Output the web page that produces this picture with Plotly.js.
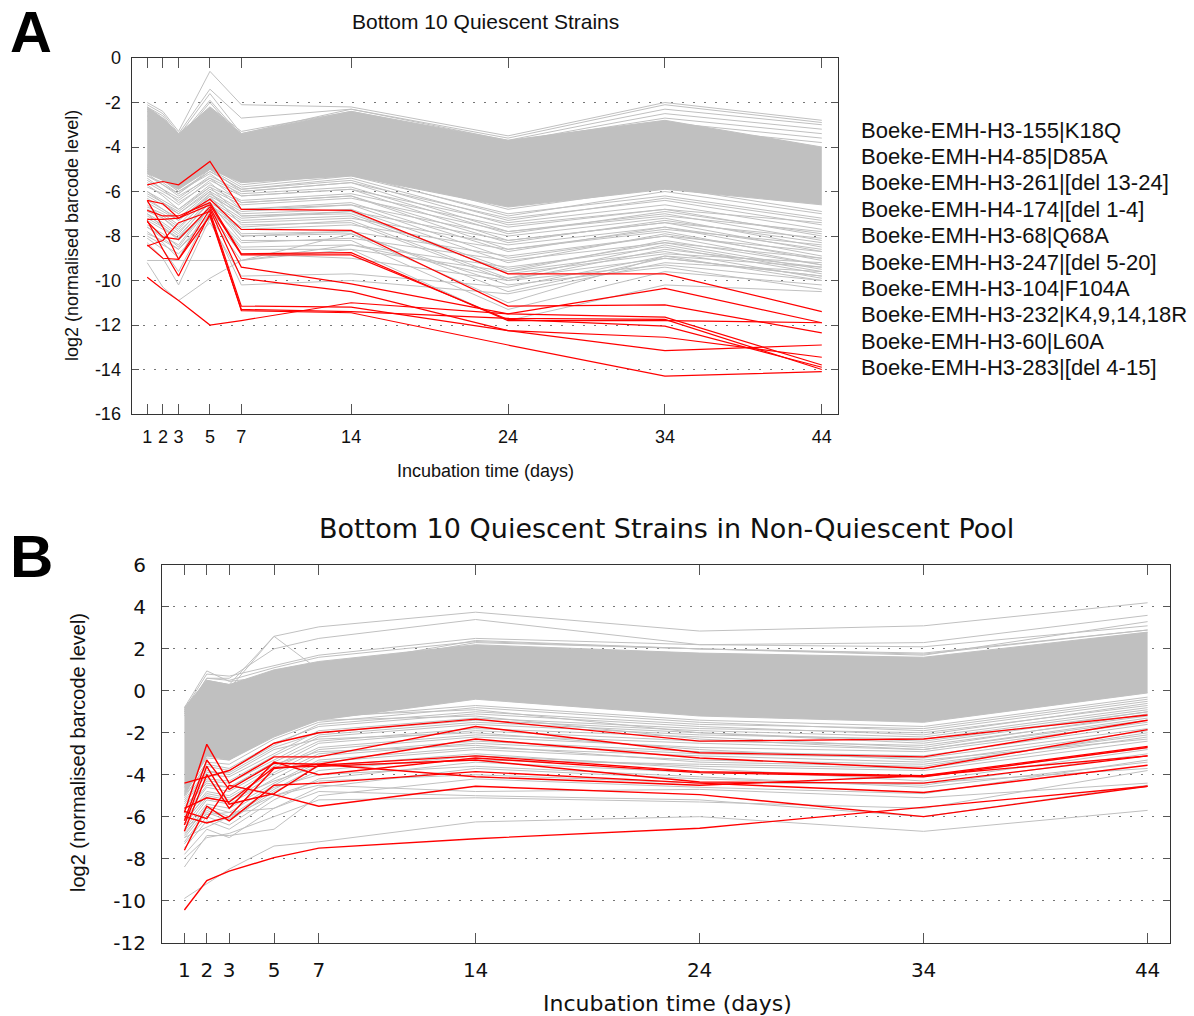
<!DOCTYPE html>
<html><head><meta charset="utf-8">
<script src="https://cdn.plot.ly/plotly-3.0.1.min.js"></script>
<style>html,body{margin:0;padding:0;background:#fff;}#chart{width:1194px;height:1016px;}</style>
</head><body><div id="chart"></div>
<script>
// ---------------- DATA ----------------
const days = [1, 2, 3, 5, 7, 14, 24, 34, 44];
const dayLabels = ['1', '2', '3', '5', '7', '14', '24', '34', '44'];
const aYTicks = [0, -2, -4, -6, -8, -10, -12, -14, -16];
const aYTickLabels = ['0', '-2', '-4', '-6', '-8', '-10', '-12', '-14', '-16'];
const bYTicks = [6, 4, 2, 0, -2, -4, -6, -8, -10, -12];
const bYTickLabels = ['6', '4', '2', '0', '-2', '-4', '-6', '-8', '-10', '-12'];

const strainLabels = [
  'Boeke-EMH-H3-155|K18Q',
  'Boeke-EMH-H4-85|D85A',
  'Boeke-EMH-H3-261|[del 13-24]',
  'Boeke-EMH-H4-174|[del 1-4]',
  'Boeke-EMH-H3-68|Q68A',
  'Boeke-EMH-H3-247|[del 5-20]',
  'Boeke-EMH-H3-104|F104A',
  'Boeke-EMH-H3-232|K4,9,14,18R',
  'Boeke-EMH-H3-60|L60A',
  'Boeke-EMH-H3-283|[del 4-15]'
];

// Panel A: dense grey core of all strains (upper / lower edge)
const aCoreTop = [-2.2, -2.7, -3.4, -2.2, -3.4, -2.4, -3.7, -2.8, -4.0];
const aCoreBottom = [-5.2, -5.5, -5.9, -5.0, -5.6, -5.3, -6.7, -5.9, -6.6];

// Panel A: other (grey) strains
const aGrey = [
  [-2.0, -2.4, -3.3, -0.6, -2.1, -2.2, -3.5, -2.0, -2.8],
  [-2.1, -2.5, -3.4, -1.4, -2.7, -2.3, -3.6, -2.1, -2.9],
  [-2.2, -2.6, -3.5, -1.6, -3.4, -2.3, -3.7, -2.3, -3.0],
  [-2.3, -2.8, -3.6, -1.9, -3.5, -2.5, -3.8, -2.5, -3.2],
  [-2.4, -2.9, -3.5, -2.2, -3.3, -2.4, -3.8, -2.7, -3.4],
  [-2.6, -3.0, -3.7, -2.0, -3.6, -2.6, -4.0, -2.9, -3.6],
  [-2.8, -3.2, -3.8, -2.4, -3.7, -2.8, -4.2, -3.1, -3.8],
  [-5.0, -5.4, -5.8, -4.8, -5.6, -5.0, -6.8, -5.8, -6.9],
  [-5.1, -5.5, -5.9, -4.9, -5.7, -5.2, -7.1, -6.0, -7.0],
  [-5.3, -5.6, -6.1, -5.0, -5.8, -5.3, -7.0, -6.2, -7.2],
  [-5.3, -5.7, -6.1, -5.1, -5.9, -5.4, -7.3, -6.3, -7.3],
  [-5.5, -5.9, -6.3, -5.3, -6.0, -5.6, -7.2, -6.4, -7.5],
  [-5.6, -6.0, -6.4, -5.4, -6.1, -5.8, -7.9, -6.9, -7.9],
  [-5.8, -6.1, -6.6, -5.5, -6.2, -5.9, -7.4, -6.6, -7.7],
  [-6.0, -6.4, -6.8, -5.7, -6.4, -6.1, -7.6, -6.8, -8.0],
  [-6.1, -6.5, -6.9, -5.8, -6.5, -6.2, -8.3, -7.3, -8.3],
  [-6.2, -6.6, -7.0, -5.9, -6.6, -6.3, -7.8, -7.0, -8.2],
  [-6.4, -6.8, -7.2, -6.0, -6.8, -6.5, -8.7, -7.6, -8.6],
  [-6.5, -6.9, -7.3, -6.1, -6.9, -6.6, -8.0, -7.2, -8.5],
  [-6.7, -7.0, -7.5, -6.1, -7.1, -6.9, -9.7, -8.8, -9.2],
  [-6.8, -7.1, -7.6, -6.3, -7.2, -6.9, -8.2, -7.4, -8.7],
  [-6.9, -7.2, -7.7, -6.2, -7.0, -6.8, -9.2, -7.9, -9.0],
  [-7.0, -7.4, -7.9, -6.3, -8.0, -7.9, -10.2, -9.4, -10.4],
  [-7.1, -7.5, -8.0, -6.5, -7.4, -7.2, -8.4, -7.6, -8.9],
  [-7.2, -7.6, -8.1, -6.4, -7.3, -7.1, -9.6, -8.2, -9.3],
  [-7.5, -7.9, -8.5, -6.7, -7.7, -7.5, -8.6, -7.8, -9.1],
  [-7.6, -8.0, -8.4, -6.6, -7.6, -7.3, -9.9, -8.4, -9.6],
  [-7.8, -8.3, -9.0, -6.6, -8.0, -7.8, -8.9, -8.0, -9.3],
  [-8.1, -8.6, -9.6, -6.9, -8.3, -8.1, -9.1, -8.3, -9.5],
  [-8.3, -9.0, -10.2, -7.2, -9.1, -8.4, -9.4, -8.5, -9.7],
  [-9.1, -9.1, -9.1, -9.1, -9.1, -8.6, -9.6, -8.7, -9.9],
  [-8.0, -8.4, -8.8, -7.4, -9.8, -9.7, -10.3, -8.9, -10.0],
  [-7.6, -8.1, -8.6, -7.2, -10.2, -10.0, -10.6, -9.2, -9.6],
  [-9.2, -10.3, -10.9, -9.9, -9.1, -7.9, -11.0, -8.9, -9.4],
  [-7.0, -7.6, -8.2, -6.8, -8.6, -8.6, -11.8, -10.2, -10.5],
  [-6.6, -7.2, -7.8, -6.5, -8.2, -8.2, -11.3, -9.6, -10.2],
  [-6.3, -6.8, -7.3, -6.2, -7.9, -7.8, -10.5, -9.0, -9.8],
  [-6.0, -6.5, -7.0, -6.0, -7.5, -7.4, -10.0, -8.6, -9.4],
  [-5.7, -6.2, -6.8, -5.8, -7.1, -7.0, -9.5, -8.3, -9.0],
  [-5.4, -5.9, -6.5, -5.6, -6.8, -6.6, -9.0, -8.0, -8.7],
  [-5.2, -5.7, -6.2, -5.4, -6.5, -6.2, -8.6, -7.7, -8.4],
  [-5.0, -5.5, -6.0, -5.2, -6.2, -5.9, -8.2, -7.4, -8.1],
  [-4.8, -5.3, -5.8, -5.0, -6.0, -5.6, -7.8, -7.1, -7.8],
  [-4.9, -5.4, -6.0, -5.1, -5.9, -5.5, -7.5, -6.8, -7.4],
  [-7.9, -8.2, -8.6, -7.0, -8.8, -9.0, -10.0, -9.3, -10.0],
  [-7.3, -7.7, -8.1, -6.8, -8.5, -8.4, -9.9, -9.0, -9.8]
];

// Panel A: bottom 10 quiescent strains (red)
const aRed = [
  [-5.7, -5.55, -5.7, -4.65, -6.8, -6.85, -9.7, -9.7, -11.4],
  [-6.4, -6.55, -7.2, -6.35, -7.7, -7.75, -11.15, -11.1, -12.35],
  [-6.85, -7.1, -7.1, -6.5, -8.8, -8.75, -11.8, -11.8, -11.9],
  [-7.25, -7.25, -7.2, -6.6, -8.85, -8.85, -11.75, -12.05, -13.9],
  [-7.35, -8.05, -8.15, -6.7, -9.4, -10.15, -11.5, -11.65, -13.8],
  [-6.4, -7.6, -9.05, -6.8, -9.9, -10.5, -12.25, -12.55, -13.45],
  [-8.45, -8.2, -7.4, -6.9, -11.15, -11.2, -12.25, -13.15, -12.9],
  [-7.3, -8.6, -9.8, -7.0, -11.35, -11.45, -12.9, -14.3, -14.1],
  [-9.85, -10.4, -10.9, -12.0, -11.8, -11.0, -11.5, -10.35, -11.9],
  [-8.4, -9.0, -9.05, -7.1, -11.3, -11.4, -11.7, -11.75, -14.0]
];

// Panel B: dense grey core
const bCoreTop = [-0.8, 0.5, 0.3, 1.0, 1.4, 2.2, 1.8, 1.6, 2.8];
const bCoreBottom = [-5.0, -3.1, -3.3, -2.2, -1.4, -0.4, -1.2, -1.5, -0.1];

// Panel B: other (grey) strains
const bGrey = [
  [-0.8, 0.95, 0.45, 0.7, 1.1, 2.4, 2.0, 1.8, 2.9],
  [-1.0, 0.5, 0.3, 2.6, 3.05, 3.75, 2.85, 3.1, 4.2],
  [-1.1, 0.6, 0.6, 2.0, 2.5, 3.4, 2.2, 2.3, 3.6],
  [-1.2, 0.2, 0.1, 2.6, 1.0, 2.3, 2.0, 1.7, 3.3],
  [-0.9, 0.8, 0.7, 1.2, 1.7, 2.5, 2.2, 2.1, 3.1],
  [-1.0, 0.6, 0.5, 1.1, 1.6, 2.35, 2.0, 1.75, 2.9],
  [-4.6, -3.1, -3.2, -2.0, -1.3, -0.7, -1.4, -1.7, -0.3],
  [-4.9, -3.4, -3.5, -2.3, -1.5, -0.8, -1.5, -1.9, -0.5],
  [-5.0, -3.6, -3.8, -2.6, -1.6, -1.0, -1.6, -1.8, -0.4],
  [-5.1, -3.5, -3.7, -2.5, -1.7, -1.1, -1.7, -2.1, -0.6],
  [-5.3, -3.9, -3.9, -2.7, -2.0, -1.4, -1.9, -2.2, -0.8],
  [-5.4, -4.0, -4.1, -3.0, -1.9, -1.3, -1.8, -2.0, -0.7],
  [-5.6, -4.2, -4.3, -3.1, -2.1, -1.5, -2.0, -2.4, -1.0],
  [-5.7, -4.3, -4.4, -3.3, -2.2, -1.6, -2.1, -2.3, -0.9],
  [-5.9, -4.5, -4.6, -3.4, -2.4, -1.8, -2.2, -2.7, -1.1],
  [-6.0, -4.6, -4.8, -3.6, -2.5, -1.9, -2.4, -2.6, -1.2],
  [-6.1, -4.8, -5.0, -3.7, -2.7, -2.1, -2.5, -2.8, -1.4],
  [-6.3, -4.9, -5.1, -3.9, -2.8, -2.2, -2.7, -2.9, -1.5],
  [-6.4, -5.1, -5.3, -4.0, -3.0, -2.4, -2.9, -3.1, -1.6],
  [-6.6, -5.2, -5.4, -4.2, -3.1, -2.5, -3.0, -3.2, -1.8],
  [-6.7, -5.4, -5.6, -4.4, -3.3, -2.7, -3.1, -3.4, -1.9],
  [-6.9, -5.5, -5.8, -4.5, -3.4, -2.8, -3.3, -3.5, -2.1],
  [-7.0, -5.7, -6.1, -4.7, -3.6, -3.3, -3.5, -3.7, -2.2],
  [-7.2, -5.8, -6.2, -4.8, -3.8, -3.1, -3.6, -3.8, -2.4],
  [-7.5, -6.2, -6.6, -5.2, -4.2, -3.4, -3.9, -4.1, -2.7],
  [-7.8, -6.6, -7.0, -5.6, -4.6, -3.7, -4.2, -4.5, -3.0],
  [-8.4, -6.9, -6.9, -6.6, -5.0, -4.2, -4.6, -4.9, -3.3],
  [-8.0, -7.0, -6.8, -6.0, -5.2, -5.1, -5.3, -5.6, -3.8],
  [-9.9, -9.2, -8.5, -7.4, -7.2, -6.25, -6.0, -6.7, -5.7],
  [-6.5, -5.9, -5.8, -5.6, -4.8, -5.0, -5.2, -6.0, -4.5],
  [-7.0, -6.5, -6.0, -5.0, -4.5, -4.8, -4.7, -5.1, -4.4],
  [-4.5, -3.0, -3.0, -1.8, -1.2, -0.9, -2.0, -2.5, -1.0],
  [-4.8, -3.2, -3.3, -2.0, -1.4, -1.2, -2.3, -2.8, -1.3],
  [-5.2, -3.8, -4.0, -2.8, -2.3, -2.0, -2.8, -3.3, -2.3],
  [-5.5, -4.4, -4.6, -3.5, -2.9, -2.6, -3.4, -3.6, -2.0],
  [-6.2, -5.0, -5.2, -4.3, -3.6, -3.0, -3.7, -4.3, -2.8],
  [-6.8, -5.6, -6.0, -4.6, -4.0, -3.6, -4.1, -4.6, -3.4],
  [-7.3, -6.0, -6.4, -5.0, -4.3, -4.0, -4.4, -4.4, -3.7]
];

// Panel B: the same bottom 10 strains in the non-quiescent pool (red)
const bRed = [
  [-4.4, -4.1, -3.8, -2.5, -2.0, -1.35, -2.4, -2.3, -1.15],
  [-5.8, -2.55, -4.4, -3.15, -3.15, -1.7, -2.95, -3.15, -1.4],
  [-6.2, -3.3, -4.7, -3.45, -3.5, -2.3, -3.2, -3.7, -1.85],
  [-6.4, -3.6, -5.4, -4.9, -3.55, -3.1, -3.85, -4.05, -2.65],
  [-6.7, -4.0, -5.6, -3.4, -4.0, -3.2, -3.9, -4.1, -2.7],
  [-5.6, -5.1, -5.3, -3.65, -3.6, -3.3, -4.35, -4.4, -3.1],
  [-7.6, -5.5, -6.2, -4.5, -4.4, -3.85, -4.4, -4.85, -3.55],
  [-5.75, -6.1, -4.5, -4.95, -5.5, -4.55, -4.95, -6.0, -4.55],
  [-10.45, -9.05, -8.6, -7.95, -7.5, -7.05, -6.55, -5.55, -4.55],
  [-6.0, -6.3, -6.0, -3.7, -3.5, -4.1, -4.5, -4.05, -3.1]
];

// ---------------- DRAWING ----------------
const W = 1194, H = 1016;
const px = x => x / W;
const py = y => 1 - y / H;
const GREY = '#c0c0c0', RED = '#ff0000';
const fA = 'Liberation Sans, Arial, sans-serif';
const fB = 'DejaVu Sans, sans-serif';

function line(xa, ya, y, color, width) {
  return {type: 'scatter', mode: 'lines', x: days, y: y, xaxis: xa, yaxis: ya,
    line: {color: color, width: width}, hoverinfo: 'skip', showlegend: false};
}
function band(xa, ya, bottom, top) {
  return [
    {type: 'scatter', mode: 'lines', x: days, y: bottom, xaxis: xa, yaxis: ya,
      line: {color: GREY, width: 1}, hoverinfo: 'skip', showlegend: false},
    {type: 'scatter', mode: 'lines', x: days, y: top, xaxis: xa, yaxis: ya, fill: 'tonexty',
      fillcolor: GREY, line: {color: GREY, width: 1}, hoverinfo: 'skip', showlegend: false}
  ];
}

const traces = [];
traces.push(...band('x', 'y', aCoreBottom, aCoreTop));
aGrey.forEach(s => traces.push(line('x', 'y', s, GREY, 1)));
aRed.forEach(s => traces.push(line('x', 'y', s, RED, 1.2)));
traces.push(...band('x2', 'y2', bCoreBottom, bCoreTop));
bGrey.forEach(s => traces.push(line('x2', 'y2', s, GREY, 1)));
bRed.forEach(s => traces.push(line('x2', 'y2', s, RED, 1.4)));

function xAxis(domain, anchor, font, size, standoff) {
  return {domain: domain, anchor: anchor, range: [0, 45], tickmode: 'array', tickvals: days, ticktext: dayLabels,
    ticks: 'inside', ticklen: 10, tickwidth: 1, tickcolor: '#555', mirror: 'ticks', showline: true,
    linecolor: '#333', linewidth: 1, showgrid: false, zeroline: false, fixedrange: true,
    tickfont: {family: font, size: size, color: '#111'}, ticklabelstandoff: standoff};
}
function yAxis(domain, anchor, range, vals, labels, font, size, standoff) {
  return {domain: domain, anchor: anchor, range: range, tickmode: 'array', tickvals: vals, ticktext: labels,
    ticks: 'inside', ticklen: 7, tickwidth: 1, tickcolor: '#555', mirror: 'ticks', showline: true,
    linecolor: '#333', linewidth: 1, showgrid: true, gridcolor: '#777', gridwidth: 1, griddash: '2px,9px',
    zeroline: false, fixedrange: true,
    tickfont: {family: font, size: size, color: '#111'}, ticklabelstandoff: standoff};
}

const annotations = [
  {text: '<b>A</b>', x: px(31), y: py(32), font: {family: fA, size: 58, color: '#000'}},
  {text: '<b>B</b>', x: px(31), y: py(556), font: {family: fA, size: 60, color: '#000'}},
  {text: 'Bottom 10 Quiescent Strains', x: px(485), y: py(22), font: {family: fA, size: 21, color: '#111'}},
  {text: 'Incubation time (days)', x: px(485), y: py(471), font: {family: fA, size: 18, color: '#111'}},
  {text: 'log2 (normalised barcode level)', x: px(72), y: py(236), textangle: -90, font: {family: fA, size: 18, color: '#111'}},
  {text: 'Bottom 10 Quiescent Strains in Non-Quiescent Pool', x: px(666), y: py(528), font: {family: fB, size: 27, color: '#111'}},
  {text: 'Incubation time (days)', x: px(667), y: py(1003), font: {family: fB, size: 22, color: '#111'}},
  {text: 'log2 (normalised barcode level)', x: px(78), y: py(753), textangle: -90, font: {family: fA, size: 20, color: '#111'}}
].map(a => Object.assign({xref: 'paper', yref: 'paper', showarrow: false, xanchor: 'center', yanchor: 'middle'}, a));

strainLabels.forEach((t, i) => annotations.push({
  text: t, xref: 'paper', yref: 'paper', x: px(859), y: py(130 + i * 26.4), showarrow: false,
  xanchor: 'left', yanchor: 'middle', font: {family: fA, size: 22, color: '#111'}
}));

const layout = {
  width: W, height: H, margin: {l: 0, r: 0, t: 0, b: 0},
  paper_bgcolor: '#fff', plot_bgcolor: '#fff', showlegend: false,
  xaxis: xAxis([px(131.5), px(837.5)], 'y', fA, 18, 6),
  yaxis: yAxis([py(414), py(58)], 'x', [-16, 0], aYTicks, aYTickLabels, fA, 18, 6),
  xaxis2: xAxis([px(162), px(1170)], 'y2', fB, 20, 9),
  yaxis2: yAxis([py(942.5), py(565)], 'x2', [-12, 6], bYTicks, bYTickLabels, fB, 20, 11),
  annotations: annotations
};

Plotly.newPlot('chart', traces, layout, {displayModeBar: false, staticPlot: true});
</script>
</body></html>
